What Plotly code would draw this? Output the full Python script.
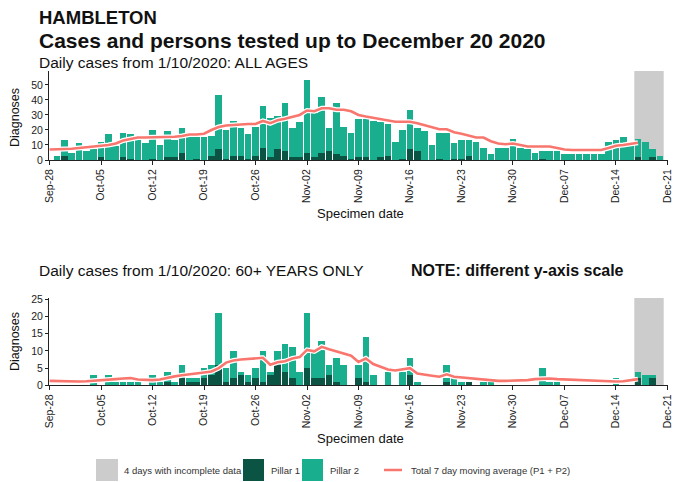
import plotly.graph_objects as go
import pandas as pd

# ---------------- data ----------------
bar_start = "2020-09-29"      # first specimen date with bars
ma_start = "2020-09-28"       # first date of moving average line

# ALL AGES (Sep 29 .. Dec 20)
all_pillar1 = [0, 3, 0, 0, 0, 0, 2, 0, 0, 2, 1, 0, 0, 1, 0, 2, 2, 5, 0, 1,
               0, 3, 7, 1, 3, 3, 1, 3, 8, 2, 7, 6, 2, 2, 5, 2, 5, 6, 4, 3,
               1, 2, 2, 0, 2, 3, 0, 1, 7, 6, 0, 0, 1, 0, 1, 1, 3, 0, 0, 0,
               0, 0, 0, 0, 0, 0, 1, 0, 0, 0, 0, 0, 0, 0, 0, 0, 0, 0, 0, 2,
               0, 2, 0]
all_pillar2 = [3, 10, 5, 11, 6, 7, 10, 17, 9, 16, 16, 13, 11, 19, 10, 17, 11, 16, 16, 14,
               15, 13, 36, 19, 23, 18, 16, 19, 28, 26, 22, 32, 19, 23, 48, 29, 37, 15, 34, 19,
               17, 25, 25, 26, 23, 21, 12, 19, 26, 15, 19, 10, 17, 18, 10, 12, 10, 12, 8, 4,
               8, 8, 14, 8, 7, 5, 5, 6, 6, 4, 4, 4, 4, 4, 4, 12, 13, 15, 10, 12,
               12, 5, 3]
all_ma = [7, 7, 7.5, 7.5, 8, 8.5, 8.5, 9, 10, 11, 13, 14, 15, 15, 15, 15, 15, 15.5, 16, 17,
          17, 17.5, 20, 22, 23, 23.5, 24, 24, 24, 26, 24.5, 26.5, 27.5, 28.5, 30, 33, 32.5, 34.5, 34.5, 33.5,
          33.5, 32.5, 30, 29, 28, 27.5, 26, 25.5, 25.5, 25.5, 24.5, 23, 21.5, 20.5, 20.5, 18.5, 17.5, 16.5, 15, 15,
          12.5, 11, 10.5, 11, 10, 9, 9, 9, 9, 8, 7, 6.7, 6.7, 6.7, 6.7, 6.7, 8, 9.5, 10, 11,
          11.5]

# 60+ YEARS ONLY (Sep 29 .. Dec 20)
old_pillar1 = [0, 0, 0, 0, 0, 0, 0, 0, 0, 0, 0, 0, 0, 0, 0, 1, 0, 2, 1, 1,
               2, 3, 6, 1, 2, 3, 1, 2, 1, 3, 6, 4, 2, 0, 5, 2, 2, 3, 1, 0,
               0, 2, 1, 0, 0, 0, 0, 0, 3, 0, 0, 0, 0, 1, 0, 0, 1, 0, 0, 0,
               0, 0, 0, 0, 0, 0, 0, 0, 0, 0, 0, 0, 0, 0, 0, 0, 0, 0, 0, 2,
               0, 2, 0]
old_pillar2 = [0, 0, 0, 0, 0, 3, 0, 3, 1, 1, 1, 1, 0, 3, 1, 3, 1, 4, 1, 1,
               3, 3, 15, 4, 8, 1, 2, 3, 9, 1, 4, 8, 9, 4, 16, 8, 11, 3, 7, 6,
               0, 4, 13, 3, 0, 4, 0, 4, 5, 1, 0, 0, 0, 5, 2, 1, 0, 0, 1, 1,
               0, 0, 0, 0, 0, 0, 5, 1, 1, 0, 0, 0, 0, 0, 0, 0, 2, 0, 0, 2,
               3, 1, 0]
old_ma = [1.3, 1.2, 1.2, 1.1, 1.1, 1.2, 1.3, 1.6, 1.7, 1.8, 2.0, 2.1, 1.7, 1.5, 1.5, 1.7, 2.2, 2.6, 2.9, 3.1,
          3.4, 3.7, 4.0, 5.0, 6.6, 7.2, 7.5, 7.7, 8.0, 8.0, 6.0, 6.7, 7.0, 7.8, 8.2, 10.3, 9.9, 11.2, 10.5, 9.8,
          9.2, 8.6, 6.8, 7.8, 6.2, 5.4, 4.6, 4.3, 4.6, 5.0, 3.4, 3.0, 2.8, 2.5, 3.2, 2.5, 2.3, 2.1, 2.0, 1.6,
          1.4, 1.3, 1.3, 1.3, 1.3, 1.5, 1.8, 2.0, 2.0, 1.8, 1.7, 1.6, 1.5, 1.4, 1.2, 1.1, 1.1, 1.1, 1.2, 1.5,
          1.8]

tick_dates = ["2020-09-28", "2020-10-05", "2020-10-12", "2020-10-19", "2020-10-26",
              "2020-11-02", "2020-11-09", "2020-11-16", "2020-11-23", "2020-11-30",
              "2020-12-07", "2020-12-14", "2020-12-21"]
x_range = ["2020-09-27 22:00", "2020-12-21 02:00"]
incomplete_span = ["2020-12-16 12:00", "2020-12-20 12:00"]
all_yticks = [0, 10, 20, 30, 40, 50]
old_yticks = [0, 5, 10, 15, 20, 25]

# ---------------- styling ----------------
W, H = 674, 482
C_P1 = "#0b5443"
C_P2 = "#19ae8e"
C_MA = "#f8766d"
C_GREY = "#cccccc"
FONT = "Liberation Sans, Arial, sans-serif"

def px(x):
    return x / W

def py(y):
    return 1 - y / H

bar_dates = pd.date_range(bar_start, periods=len(all_pillar2))
ma_dates = pd.date_range(ma_start, periods=len(all_ma))

fig = go.Figure()

def add_panel(p1, p2, ma, xa, ya):
    fig.add_trace(go.Bar(x=bar_dates, y=p1, marker=dict(color=C_P1, line=dict(width=0)),
                         xaxis=xa, yaxis=ya, name="Pillar 1"))
    fig.add_trace(go.Bar(x=bar_dates, y=p2, marker=dict(color=C_P2, line=dict(width=0)),
                         xaxis=xa, yaxis=ya, name="Pillar 2"))
    fig.add_trace(go.Scatter(x=ma_dates, y=ma, mode="lines", line=dict(color="white", width=5),
                             xaxis=xa, yaxis=ya, hoverinfo="skip"))
    fig.add_trace(go.Scatter(x=ma_dates, y=ma, mode="lines", line=dict(color=C_MA, width=2.6),
                             xaxis=xa, yaxis=ya, name="Total 7 day moving average (P1 + P2)"))

add_panel(all_pillar1, all_pillar2, all_ma, "x", "y")
add_panel(old_pillar1, old_pillar2, old_ma, "x2", "y2")

xcommon = dict(type="date", range=x_range, tickvals=tick_dates, tickformat="%b-%d",
               tickangle=-90, ticks="outside", ticklen=4, tickcolor="#222", showline=True,
               linecolor="#222", linewidth=1, showgrid=False, zeroline=False, automargin=False,
               tickfont=dict(family=FONT, size=10.5, color="#222"))
ycommon = dict(ticks="outside", ticklen=3, tickcolor="#222", showline=True, linecolor="#222",
               linewidth=1, showgrid=False, zeroline=False, automargin=False,
               tickfont=dict(family=FONT, size=10.5, color="#222"))

X0, X1 = 49, 668
fig.update_layout(
    width=W, height=H, margin=dict(l=0, r=0, t=0, b=0, autoexpand=False),
    plot_bgcolor="white", paper_bgcolor="white", showlegend=False,
    barmode="stack", bargap=0.1,
    font=dict(family=FONT, color="#111"),
    xaxis=dict(domain=[px(X0), px(X1)], anchor="y", **xcommon),
    yaxis=dict(domain=[py(160), py(71)], range=[0, 59.3], tickvals=all_yticks, anchor="x", **ycommon),
    xaxis2=dict(domain=[px(X0), px(X1)], anchor="y2", **xcommon),
    yaxis2=dict(domain=[py(385.3), py(298)], range=[0, 25.4], tickvals=old_yticks, anchor="x2", **ycommon),
)

shapes = []
for ya in ["y", "y2"]:
    shapes.append(dict(type="rect", xref="x" if ya == "y" else "x2", yref=ya + " domain",
                       x0=incomplete_span[0], x1=incomplete_span[1], y0=0, y1=1,
                       fillcolor=C_GREY, line=dict(width=0), layer="below"))

# legend
leg_y = 470
for (x0, x1, col) in [(96, 118, C_GREY), (243, 264, C_P1), (302, 323, C_P2)]:
    shapes.append(dict(type="rect", xref="paper", yref="paper", x0=px(x0), x1=px(x1),
                       y0=py(leg_y + 11), y1=py(leg_y - 11), fillcolor=col, line=dict(width=0)))
shapes.append(dict(type="line", xref="paper", yref="paper", x0=px(384), x1=px(402),
                   y0=py(leg_y), y1=py(leg_y), line=dict(color=C_MA, width=2.5)))
fig.update_layout(shapes=shapes)

ann = []
def text(x, y, s, size, bold=False, angle=0, xanchor="left", color="#111"):
    ann.append(dict(x=px(x), y=py(y), xref="paper", yref="paper", text=("<b>%s</b>" % s) if bold else s,
                    showarrow=False, xanchor=xanchor, yanchor="middle", textangle=angle, borderpad=0,
                    font=dict(family=FONT, size=size, color=color)))

text(38, 18, "HAMBLETON", 18.5, bold=True)
text(38, 40, "Cases and persons tested up to December 20 2020", 21, bold=True)
text(38, 63, "Daily cases from 1/10/2020: ALL AGES", 15.5)
text(38, 270, "Daily cases from 1/10/2020: 60+ YEARS ONLY", 15.5)
text(410, 270, "NOTE: different y-axis scale", 16, bold=True)
text(15, 118, "Diagnoses", 12.5, angle=-90, xanchor="center")
text(15, 342, "Diagnoses", 12.5, angle=-90, xanchor="center")
text(360, 213, "Specimen date", 13, xanchor="center")
text(360, 438, "Specimen date", 13, xanchor="center")
text(123, leg_y, "4 days with incomplete data", 9.5, color="#333")
text(270, leg_y, "Pillar 1", 9.5, color="#333")
text(329, leg_y, "Pillar 2", 9.5, color="#333")
text(410, leg_y, "Total 7 day moving average (P1 + P2)", 9.5, color="#333")
fig.update_layout(annotations=ann)

fig.write_html("out.html", config={"displayModeBar": False},
               post_script="document.body.style.margin='0';document.body.style.overflow='hidden';")
